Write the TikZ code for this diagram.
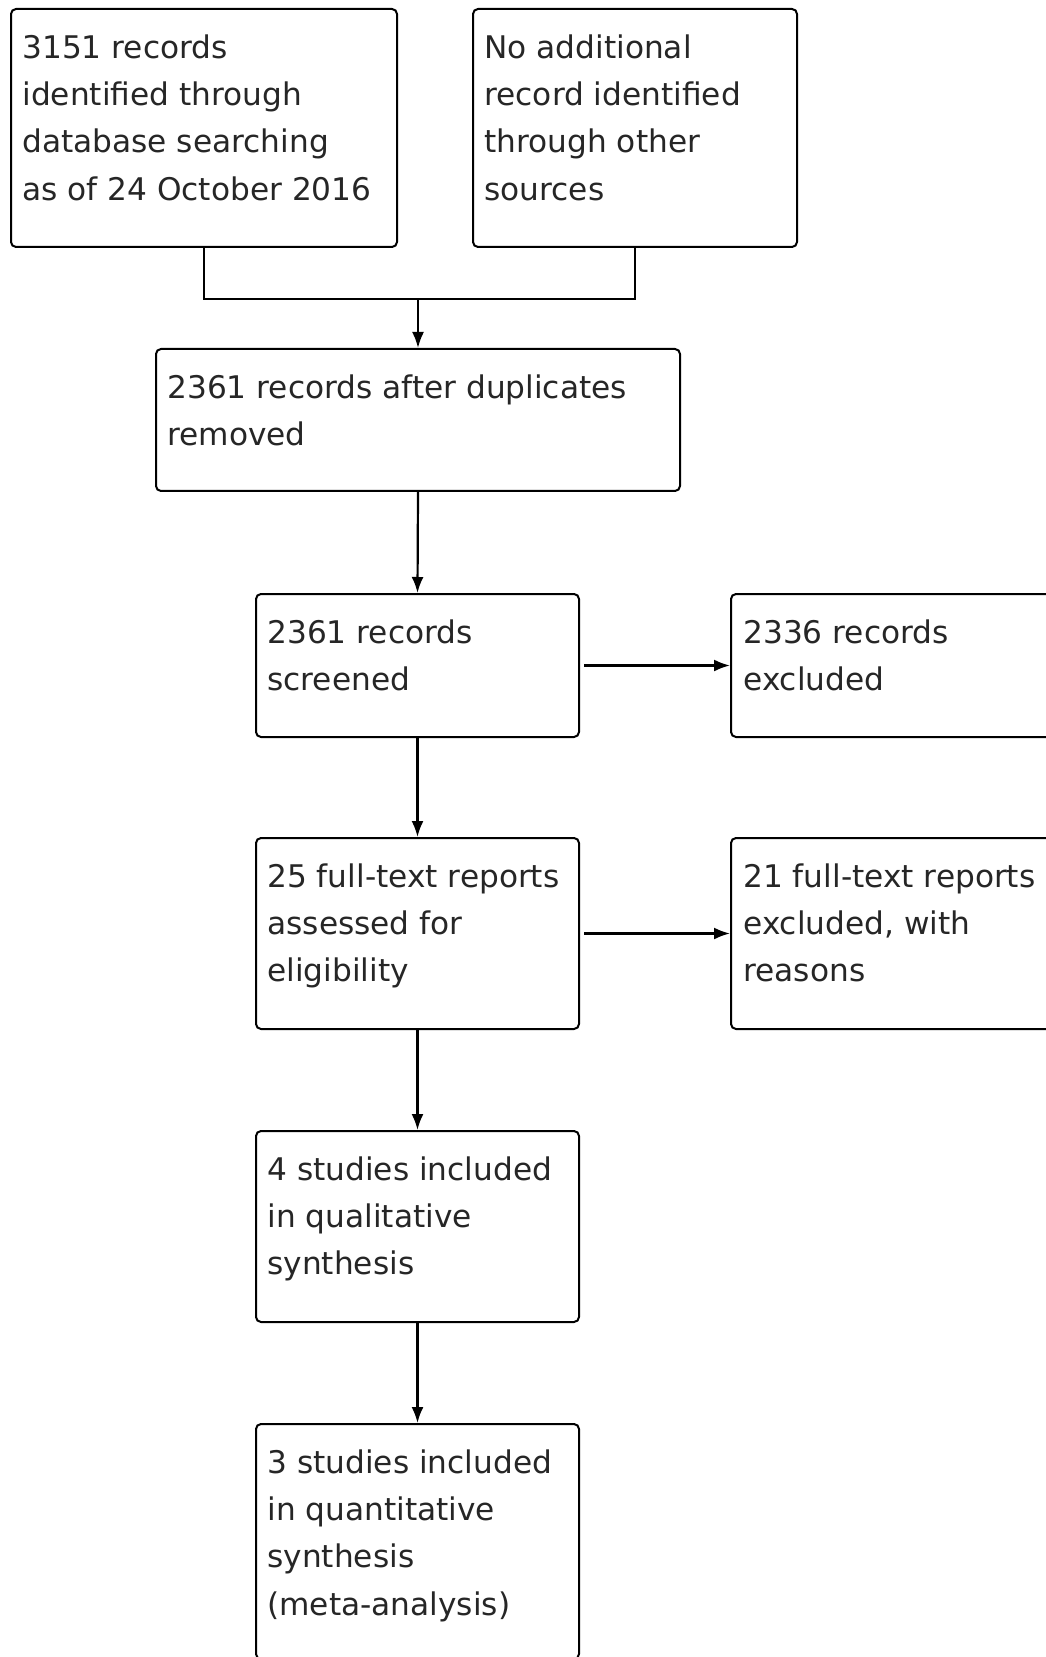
\documentclass[tikz,border=0pt]{standalone}
\usepackage{fontspec}
\setmainfont{DejaVu Sans}
\usetikzlibrary{arrows.meta,fit,calc}
\tikzset{
  box/.style={draw=black, line width=1pt, rounded corners=2.5pt, inner sep=0pt, fill=white},
  txt/.style={anchor=north west, inner sep=0pt, align=left, text=black!85,
              font=\fontsize{15.6pt}{23.6pt}\selectfont},
  conn/.style={draw=black, line width=1.1pt},
  arr/.style={conn, -{Latex[length=8pt,width=6pt]}}
}
\begin{document}
\begin{tikzpicture}[x=0.5pt,y=-0.5pt]
\useasboundingbox[fill=white] (0,0) rectangle (1045,1657);
% boxes
\node[box, fit={(11,9) (397,247)}] (A) {};
\node[box, fit={(473,9) (797,247)}] (B) {};
\node[box, fit={(156,349) (680,491)}] (C) {};
\node[box, fit={(256,594) (579,737)}] (D) {};
\node[box, fit={(731,594) (1060,737)}] (E) {};
\node[box, fit={(256,838) (579,1029)}] (F) {};
\node[box, fit={(731,838) (1060,1029)}] (G) {};
\node[box, fit={(256,1131) (579,1322)}] (H) {};
\node[box, fit={(256,1424) (579,1659)}] (I) {};
% texts
\node[txt] (tA) at ([shift={(12,17)}]A.north west) {\strut 3151 records\\identified through\\database searching\\as of 24 October 2016};
\node[txt] (tB) at ([shift={(12,17)}]B.north west) {\strut No additional\\record identified\\through other\\sources};
\node[txt] (tC) at ([shift={(12,17)}]C.north west) {\strut 2361 records after duplicates\\removed};
\node[txt] (tD) at ([shift={(12,17)}]D.north west) {\strut 2361 records\\screened};
\node[txt] (tE) at ([shift={(13,17)}]E.north west) {\strut 2336 records\\excluded};
\node[txt] (tF) at ([shift={(12,17)}]F.north west) {\strut 25 full-text reports\\assessed for\\eligibility};
\node[txt] (tG) at ([shift={(13,17)}]G.north west) {\strut 21 full-text reports\\excluded, with\\reasons};
\node[txt] (tH) at ([shift={(12,17)}]H.north west) {\strut 4 studies included\\in qualitative\\synthesis};
\node[txt] (tI) at ([shift={(12,17)}]I.north west) {\strut 3 studies included\\in quantitative\\synthesis\\(meta-analysis)};
% connectors
\coordinate (m) at (418,299);
\draw[conn] (A.south) -- (A.south |- m) -- (B.south |- m) -- (B.south);
\draw[arr] (m) -- (C.north);
\draw[arr] (C.south) -- (D.north);
\draw[arr, shorten <=2pt] (D.east) -- (E.west);
\draw[arr] (D.south) -- (F.north);
\draw[arr, shorten <=2pt] (F.east) -- (G.west);
\draw[arr] (F.south) -- (H.north);
\draw[arr] (H.south) -- (I.north);
\end{tikzpicture}
\end{document}
